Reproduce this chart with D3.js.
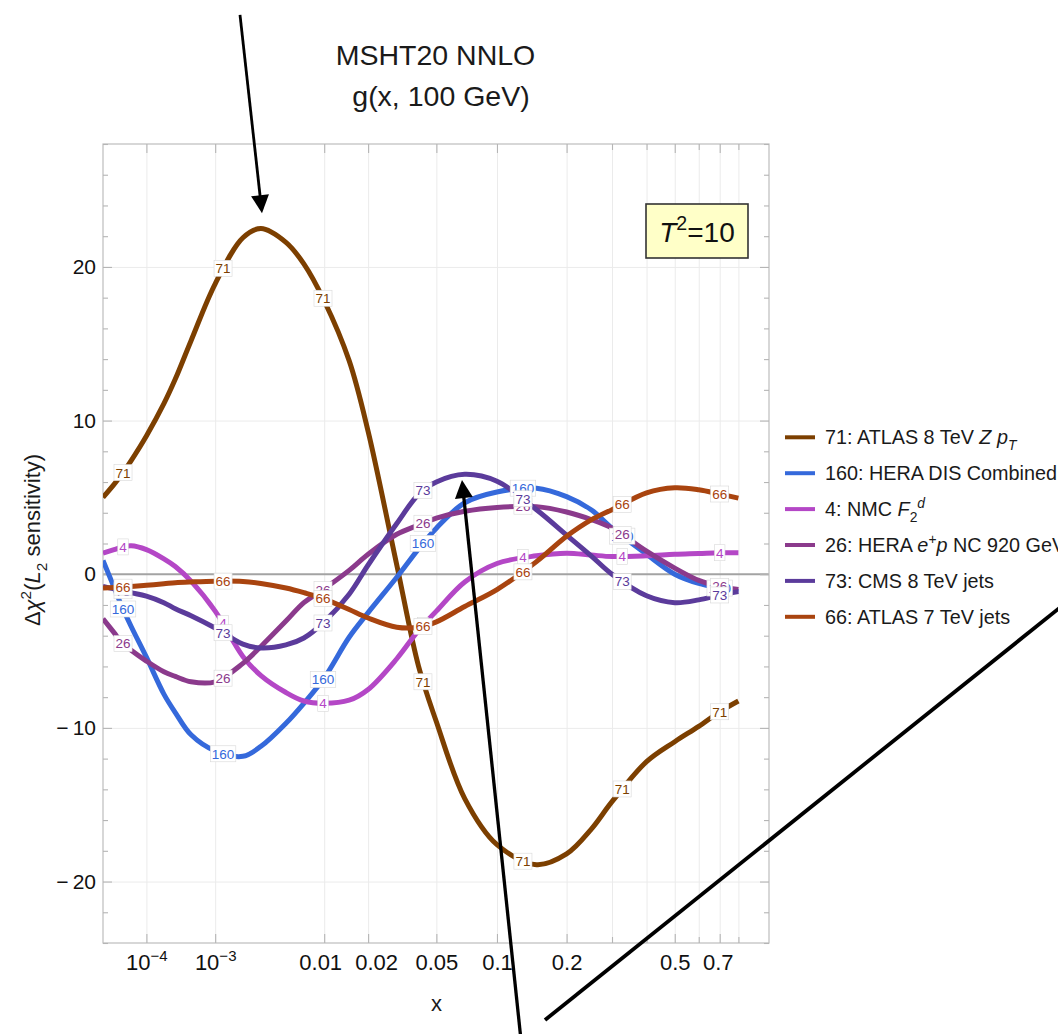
<!DOCTYPE html>
<html>
<head>
<meta charset="utf-8">
<script src="https://cdn.jsdelivr.net/npm/d3@7"></script>
<style>
  html, body { margin: 0; padding: 0; background: #fff; }
  svg { display: block; font-family: "Liberation Sans", Arial, Helvetica, sans-serif; }
</style>
</head>
<body>
<svg id="chart" width="1058" height="1034"></svg>
<script>
// ---- data: L2 sensitivity of each data set to g(x, 100 GeV) ----
const xGrid = [1e-5, 2e-5, 3e-5, 5e-5, 1e-4, 2e-4, 3e-4, 5e-4, 1e-3, 2e-3, 3e-3, 5e-3, 7e-3,
               0.01, 0.015, 0.02, 0.03, 0.04, 0.05, 0.07, 0.1, 0.15, 0.2, 0.25, 0.3, 0.4, 0.5, 0.6, 0.7, 0.8];

const s71  = [5.0, 5.85, 6.45, 7.4, 9.0, 11.1, 12.7, 15.2, 18.9, 21.9, 22.5, 21.6, 20.2,
              17.8, 13.9, 9.3, 0.6, -6.0, -9.6, -14.6, -17.6, -18.9, -18.2, -16.6, -14.8, -12.2, -10.9, -9.9, -8.95, -8.25];
const s160 = [0.9, -0.85, -2.0, -3.4, -5.4, -7.8, -9.0, -10.45, -11.5, -11.85, -11.2, -9.7, -8.4,
              -6.75, -4.1, -2.5, -0.2, 1.65, 3.0, 4.65, 5.35, 5.6, 5.05, 4.2, 3.0, 1.3, 0.0, -0.6, -0.9, -1.13];
const s4   = [1.37, 1.6, 1.75, 1.85, 1.6, 1.0, 0.5, -0.45, -2.4, -5.35, -6.6, -7.7, -8.25,
              -8.4, -8.2, -7.5, -5.5, -3.65, -2.4, -0.5, 0.7, 1.2, 1.37, 1.25, 1.15, 1.2, 1.3, 1.35, 1.4, 1.4];
const s26  = [-2.9, -3.8, -4.4, -4.95, -5.65, -6.35, -6.65, -7.0, -7.0, -5.8, -4.7, -3.05, -1.85,
              -0.95, 0.25, 1.3, 2.6, 3.2, 3.65, 4.1, 4.35, 4.4, 4.05, 3.56, 3.0, 1.5, 0.4, -0.4, -0.8, -1.0];
const s73  = [-0.8, -0.95, -1.05, -1.2, -1.42, -1.85, -2.25, -2.7, -3.5, -4.55, -4.8, -4.6, -4.15,
              -3.1, -1.3, 0.6, 3.3, 5.2, 6.0, 6.5, 6.05, 4.2, 2.55, 1.2, 0.0, -1.4, -1.85, -1.67, -1.35, -1.13];
const s66  = [-0.9, -0.87, -0.85, -0.8, -0.72, -0.62, -0.55, -0.5, -0.45, -0.47, -0.6, -0.9, -1.2,
              -1.6, -2.3, -2.85, -3.45, -3.45, -3.1, -2.1, -1.0, 0.82, 2.47, 3.54, 4.2, 5.3, 5.63, 5.5, 5.22, 4.95];

const seriesIds    = ["71", "160", "4", "26", "73", "66"];
const seriesValues = [s71, s160, s4, s26, s73, s66];
const seriesColors = ["#7c3f00", "#3569db", "#b447c6", "#8b3a8c", "#5b3b9b", "#a9440f"];

// legend entries, as runs of plain / italic / sub / superscript text
const legendEntries = [
  [["71: ATLAS 8 TeV ", ""], ["Z p", "i"], ["T", "isub"]],
  [["160: HERA DIS Combined", ""]],
  [["4: NMC ", ""], ["F", "i"], ["2", "sub"], ["d", "isup"]],
  [["26: HERA ", ""], ["e", "i"], ["+", "sup"], ["p", "i"], [" NC 920 GeV", ""]],
  [["73: CMS 8 TeV jets", ""]],
  [["66: ATLAS 7 TeV jets", ""]]
];

// x positions of the in-line curve labels
const labelXs = [3.3e-5, 1.23e-3, 0.0098, 0.0423, 0.131, 0.327, 0.70];

// ticks
const xMajorTicks  = [1e-4, 1e-3, 0.01, 0.02, 0.05, 0.1, 0.2, 0.5, 0.7];
const xMajorLabels = [["10", "\u22124"], ["10", "\u22123"], "0.01", "0.02", "0.05", "0.1", "0.2", "0.5", "0.7"];
const xMinorTicks  = [0.3, 0.4, 0.6, 0.8];
const yMajorTicks  = [-20, -10, 0, 10, 20];
const yMajorLabels = ["\u2212\u200920", "\u2212\u200910", "0", "10", "20"];
const yMinorTicks  = [-24, -22, -18, -16, -14, -12, -8, -6, -4, -2, 2, 4, 6, 8, 12, 14, 16, 18, 22, 24, 26, 28];

// annotation arrows, in data units [x, value]
const annotations = [
  { from: [0.0018685, 36.4], to: [0.0030665, 23.5], head: true,  width: 2.8 },
  { from: [0.12843, -30.31], to: [0.067832, 6.13],  head: true,  width: 3.3 },
  { from: [0.16296, -29.01], to: [5.1844, -2.17],   head: false, width: 3.8 }
];

// ---- layout ----
const L = 103, R = 769, T = 144, B = 943;
const svg = d3.select("#chart");

const x = d3.scalePow().exponent(0.2).domain([1e-5, 0.988]).range([L, R]);
const y = d3.scaleLinear().domain([-24, 28]).range([B, T]);

// small horizontal nudges keeping crowded tick labels apart
const xLabelNudge = { 0.01: -4, 0.02: 8, 0.7: -2 };

svg.append("rect").attr("width", 1058).attr("height", 1034).attr("fill", "#fff");

// grid
const xAll = xMajorTicks.concat(xMinorTicks);
svg.append("g").attr("transform", `translate(0,${B})`)
  .call(d3.axisBottom(x).tickValues(xAll).tickSize(-(B - T)).tickFormat(""))
  .call(g => g.select(".domain").remove())
  .call(g => g.selectAll("line").attr("stroke", "#ebebeb").attr("stroke-width", 1));
svg.append("g").attr("transform", `translate(${L},0)`)
  .call(d3.axisLeft(y).tickValues(yMajorTicks.filter(v => v !== 0)).tickSize(-(R - L)).tickFormat(""))
  .call(g => g.select(".domain").remove())
  .call(g => g.selectAll("line").attr("stroke", "#ebebeb").attr("stroke-width", 1));

// zero line
svg.append("line")
  .attr("x1", L).attr("x2", R).attr("y1", y(0)).attr("y2", y(0))
  .attr("stroke", "#a3a3a3").attr("stroke-width", 2);

// frame
svg.append("rect").attr("x", L).attr("y", T).attr("width", R - L).attr("height", B - T)
  .attr("fill", "none").attr("stroke", "#bdbdbd").attr("stroke-width", 1.2);

const tickColor = "#b5b5b5";
function styleTicks(g) {
  g.select(".domain").remove();
  g.selectAll(".tick line").attr("stroke", tickColor).attr("stroke-width", 1.1);
}

// bottom axis (labelled majors)
const bottom = svg.append("g").attr("transform", `translate(0,${B})`)
  .call(d3.axisBottom(x).tickValues(xMajorTicks).tickSizeInner(-9).tickSizeOuter(0).tickPadding(11)
        .tickFormat((d, i) => Array.isArray(xMajorLabels[i]) ? "" : xMajorLabels[i]))
  .call(styleTicks);
bottom.selectAll(".tick text")
  .attr("font-size", 22).attr("fill", "#111").attr("font-family", "Liberation Sans, Arial, sans-serif")
  .attr("dx", d => xLabelNudge[d] || 0)
  .each(function (d, i) {
    const lab = xMajorLabels[i];
    if (Array.isArray(lab)) {
      const t = d3.select(this);
      t.append("tspan").text(lab[0]);
      t.append("tspan").attr("font-size", 15).attr("dy", "-0.55em").text(lab[1]);
    }
  });
svg.append("g").attr("transform", `translate(0,${B})`)
  .call(d3.axisBottom(x).tickValues(xMinorTicks).tickSize(-6).tickFormat(""))
  .call(styleTicks);
// top axis
svg.append("g").attr("transform", `translate(0,${T})`)
  .call(d3.axisTop(x).tickValues(xMajorTicks).tickSize(-9).tickFormat(""))
  .call(styleTicks);
svg.append("g").attr("transform", `translate(0,${T})`)
  .call(d3.axisTop(x).tickValues(xMinorTicks).tickSize(-6).tickFormat(""))
  .call(styleTicks);

// left axis
const left = svg.append("g").attr("transform", `translate(${L},0)`)
  .call(d3.axisLeft(y).tickValues(yMajorTicks).tickSizeInner(-9).tickSizeOuter(0).tickPadding(7)
        .tickFormat((d, i) => yMajorLabels[i]))
  .call(styleTicks);
left.selectAll(".tick text").attr("font-size", 21).attr("fill", "#111")
  .attr("font-family", "Liberation Sans, Arial, sans-serif");
svg.append("g").attr("transform", `translate(${L},0)`)
  .call(d3.axisLeft(y).tickValues(yMinorTicks).tickSize(-5).tickFormat(""))
  .call(styleTicks);
// right axis
svg.append("g").attr("transform", `translate(${R},0)`)
  .call(d3.axisRight(y).tickValues(yMajorTicks).tickSize(-9).tickFormat(""))
  .call(styleTicks);
svg.append("g").attr("transform", `translate(${R},0)`)
  .call(d3.axisRight(y).tickValues(yMinorTicks).tickSize(-5).tickFormat(""))
  .call(styleTicks);

// ---- curves ----
svg.append("defs").append("clipPath").attr("id", "plotClip")
  .append("rect").attr("x", L).attr("y", T).attr("width", R - L).attr("height", B - T);

const line = d3.line()
  .x(d => x(d[0])).y(d => y(d[1]))
  .curve(d3.curveCatmullRom.alpha(0.5));

const curveLayer = svg.append("g").attr("clip-path", "url(#plotClip)");
const paths = seriesIds.map((id, k) => {
  const pts = xGrid.map((xv, i) => [xv, seriesValues[k][i]]);
  return curveLayer.append("path")
    .datum(pts)
    .attr("d", line)
    .attr("fill", "none")
    .attr("stroke", seriesColors[k])
    .attr("stroke-width", 5)
    .attr("stroke-linejoin", "round");
});

// pixel y of a path at pixel x
function yOnPath(node, px) {
  let lo = 0, hi = node.getTotalLength();
  for (let i = 0; i < 40; i++) {
    const mid = (lo + hi) / 2;
    if (node.getPointAtLength(mid).x < px) lo = mid; else hi = mid;
  }
  return node.getPointAtLength((lo + hi) / 2).y;
}

// in-line labels
const labelLayer = svg.append("g");
seriesIds.forEach((id, k) => {
  const node = paths[k].node();
  labelXs.forEach(lx => {
    const px = x(lx), py = yOnPath(node, px);
    const g = labelLayer.append("g").attr("transform", `translate(${px},${py})`);
    const rect = g.append("rect");
    const t = g.append("text")
      .attr("text-anchor", "middle").attr("dy", "0.36em")
      .attr("font-size", 13.5).attr("fill", seriesColors[k]).text(id);
    const w = t.node().getComputedTextLength() + 3;
    rect.attr("x", -w / 2).attr("y", -8).attr("width", w).attr("height", 16)
      .attr("fill", "#fff").attr("stroke", "#d8d8d8").attr("stroke-width", 0.6);
  });
});

// rich text helper (italic / sub / sup runs)
function richText(sel, runs, fs) {
  let shift = 0;
  runs.forEach(([txt, style]) => {
    const ts = sel.append("tspan").text(txt);
    let target = 0;
    if (style.includes("sub")) { target = 0.3 * fs; ts.attr("font-size", 0.7 * fs); }
    if (style.includes("sup")) { target = -0.42 * fs; ts.attr("font-size", 0.7 * fs); }
    if (style.startsWith("i")) ts.attr("font-style", "italic");
    if (target !== shift) { ts.attr("dy", target - shift); shift = target; }
  });
}

// ---- legend ----
const legend = svg.append("g");
legendEntries.forEach((runs, i) => {
  const cy = 437.3 + i * 35.9;
  legend.append("line").attr("x1", 785).attr("x2", 815).attr("y1", cy).attr("y2", cy)
    .attr("stroke", seriesColors[i]).attr("stroke-width", 4);
  const t = legend.append("text").attr("x", 825).attr("y", cy + 7).attr("font-size", 19.8).attr("fill", "#1a1a1a");
  richText(t, runs, 19.8);
});

// ---- titles and axis labels ----
svg.append("text").attr("x", 435.5).attr("y", 65).attr("text-anchor", "middle")
  .attr("font-size", 28.5).attr("fill", "#1a1a1a").text("MSHT20 NNLO");
svg.append("text").attr("x", 441).attr("y", 106).attr("text-anchor", "middle")
  .attr("font-size", 28.5).attr("fill", "#1a1a1a").text("g(x, 100 GeV)");

svg.append("text").attr("x", 436.5).attr("y", 1011).attr("text-anchor", "middle")
  .attr("font-size", 22).attr("fill", "#1a1a1a").text("x");

const yl = svg.append("text").attr("transform", "translate(40,540) rotate(-90)")
  .attr("text-anchor", "middle").attr("font-size", 22).attr("fill", "#1a1a1a");
richText(yl, [["\u0394", ""], ["\u03c7", "i"], ["2", "sup"], ["(", ""], ["L", "i"], ["2", "sub"], [" sensitivity)", ""]], 22);

// T^2 box
const tb = svg.append("g");
tb.append("rect").attr("x", 646).attr("y", 204).attr("width", 102).attr("height", 54)
  .attr("fill", "#ffffc8").attr("stroke", "#333").attr("stroke-width", 1.6);
const tt = tb.append("text").attr("x", 697).attr("y", 242).attr("text-anchor", "middle")
  .attr("font-size", 28).attr("fill", "#111");
richText(tt, [["T", "i"], ["2", "sup"], ["=10", ""]], 28);

// ---- annotation arrows ----
const arrowLayer = svg.append("g");
annotations.forEach(a => {
  const x1 = x(a.from[0]), y1 = y(a.from[1]), x2 = x(a.to[0]), y2 = y(a.to[1]);
  const ang = Math.atan2(y2 - y1, x2 - x1);
  const hl = 18, hw = 9;
  const ex = a.head ? x2 - Math.cos(ang) * (hl - 2) : x2;
  const ey = a.head ? y2 - Math.sin(ang) * (hl - 2) : y2;
  arrowLayer.append("line").attr("x1", x1).attr("y1", y1).attr("x2", ex).attr("y2", ey)
    .attr("stroke", "#000").attr("stroke-width", a.width);
  if (a.head) {
    const bx = x2 - Math.cos(ang) * hl, by = y2 - Math.sin(ang) * hl;
    const nx = -Math.sin(ang) * hw, ny = Math.cos(ang) * hw;
    arrowLayer.append("path")
      .attr("d", `M${x2},${y2}L${bx + nx},${by + ny}L${bx - nx},${by - ny}Z`)
      .attr("fill", "#000");
  }
});
</script>
</body>
</html>
